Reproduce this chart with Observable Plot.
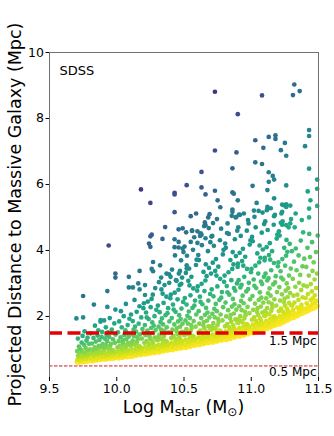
<!DOCTYPE html>
<html><head><meta charset="utf-8">
<script src="https://cdn.jsdelivr.net/npm/d3@7"></script>
<script src="https://cdn.jsdelivr.net/npm/@observablehq/plot@0.6"></script>
<style>html,body{margin:0;padding:0;background:#fff}</style>
</head><body><div id="chart"></div>
<script>
const xTicks = [9.5, 10.0, 10.5, 11.0, 11.5];
const yTicks = [2, 4, 6, 8, 10];
const refLines = [1.5, 0.5];
const refLabels = ["1.5 Mpc", "0.5 Mpc"];
const panelLabel = ["SDSS"];
// lower envelope of the cloud (colour reference)
const envMass = [9.70,9.80,9.90,10.0,10.1,10.2,10.3,10.4,10.5,10.6,10.7,10.8,10.9,11.0,11.1,11.2,11.3,11.4,11.5];
const envDist = [0.58,0.63,0.68,0.72,0.77,0.84,0.90,0.97,1.04,1.12,1.20,1.28,1.38,1.48,1.60,1.74,1.92,2.10,2.30];

const bandLow = [
[9.703,.62],[9.716,.59],[9.731,.64],[9.744,.61],[9.758,.63],[9.772,.62],[9.789,.65],[9.796,.70],[9.708,.69],[9.722,.73],[9.737,.67],[9.751,.75],[9.766,.71],[9.781,.78],[9.712,.81],[9.727,.86],[9.741,.79],[9.763,.84],[9.778,.91],[9.792,.85],[9.705,.95],[9.734,.99],[9.749,.92],[9.769,1.04],[9.786,.98],[9.719,1.09],[9.757,1.14],[9.739,1.21],[9.775,1.27],[9.711,1.33],[9.793,1.17],[9.746,1.41],[9.761,1.55],[9.726,1.02],[9.783,1.36],
[9.804,.65],[9.818,.64],[9.833,.67],[9.846,.66],[9.861,.69],[9.877,.68],[9.893,.71],[9.809,.74],[9.824,.71],[9.839,.78],[9.853,.73],[9.868,.80],[9.884,.76],[9.897,.83],[9.812,.87],[9.829,.82],[9.843,.91],[9.858,.88],[9.874,.94],[9.889,.90],[9.802,1.00],[9.821,.97],[9.836,1.06],[9.851,1.02],[9.866,1.11],[9.881,1.07],[9.895,1.16],[9.815,1.18],[9.844,1.24],[9.871,1.29],[9.827,1.35],[9.858,1.42],[9.887,1.38],[9.806,1.49],[9.863,1.58],[9.838,1.72],[9.879,1.84],[9.891,1.53],
[9.903,.70],[9.917,.69],[9.931,.72],[9.946,.71],[9.962,.73],[9.977,.72],[9.992,.75],[9.908,.77],[9.923,.80],[9.938,.76],[9.954,.83],[9.969,.79],[9.985,.86],[9.912,.90],[9.927,.85],[9.942,.94],[9.958,.90],[9.973,.97],[9.988,.93],[9.905,1.01],[9.921,1.06],
[9.964,.99],[9.949,1.10],[9.934,1.04],[9.918,1.14],[9.903,1.08],[9.986,1.20],[9.957,1.17],[9.929,1.25],[9.972,1.31],[9.944,1.38],[9.911,1.33],[9.991,1.45],[9.936,1.52],[9.963,1.60],[9.919,1.67],[9.982,1.79],[9.948,1.95],[9.906,1.88],[9.925,1.44],
[10.003,.74],[10.017,.73],[10.032,.76],[10.046,.75],[10.061,.78],[10.077,.77],[10.092,.79],[10.008,.81],[10.023,.84],[10.038,.80],[10.054,.87],[10.069,.83],[10.085,.90],[10.012,.94],[10.027,.89],[10.042,.98],[10.058,.95],[10.073,1.01],[10.088,.97],[10.005,1.06],[10.021,1.11],[10.036,1.04],[10.051,1.15],[10.066,1.09],[10.082,1.19],[10.097,1.13],[10.014,1.25],[10.043,1.22],[10.071,1.31],[10.028,1.37],[10.056,1.44],[10.089,1.39],[10.009,1.52],[10.064,1.58],[10.037,1.67],[10.081,1.74],[10.018,1.85],[10.052,2.01],[10.094,1.93],[10.075,1.50],[10.047,1.29],[10.031,2.16],[10.068,2.38],
[10.103,.79],[10.117,.78],[10.132,.82],[10.146,.81],[10.161,.84],[10.177,.83],[10.192,.86],[10.108,.87],[10.123,.90],[10.138,.86],[10.154,.93],[10.169,.89],[10.185,.96],[10.112,1.00],[10.127,.95],[10.142,1.04],[10.158,1.00],[10.173,1.08],[10.188,1.03],[10.105,1.12],[10.121,1.17],
[10.164,1.10],[10.149,1.22],[10.134,1.15],[10.118,1.27],[10.103,1.20],[10.186,1.33],[10.157,1.30],[10.129,1.40],[10.172,1.46],[10.144,1.54],[10.111,1.48],[10.191,1.62],[10.136,1.69],[10.163,1.78],[10.119,1.86],[10.182,1.97],[10.148,2.14],[10.106,2.06],[10.125,1.60],[10.153,1.38],[10.169,2.31],[10.132,2.50],[10.198,2.25]
];

const bandMid = [
[10.203,.86],[10.217,.85],[10.232,.88],[10.246,.87],[10.261,.90],[10.277,.89],[10.292,.92],[10.208,.93],[10.223,.96],[10.238,.92],[10.254,1.00],[10.269,.95],[10.285,1.03],[10.212,1.07],[10.227,1.02],[10.242,1.11],[10.258,1.07],[10.273,1.15],[10.288,1.10],[10.205,1.20],[10.221,1.25],[10.236,1.18],[10.251,1.31],[10.266,1.23],[10.282,1.36],[10.297,1.29],[10.214,1.43],[10.243,1.39],[10.271,1.50],[10.228,1.57],[10.256,1.65],[10.289,1.59],[10.209,1.74],[10.264,1.82],[10.237,1.92],[10.281,2.01],[10.218,2.12],[10.252,2.28],[10.294,2.20],[10.275,1.72],[10.247,1.48],[10.231,2.45],[10.268,2.66],[10.202,2.40],[10.286,2.86],[10.259,2.53],[10.223,1.97],
[10.303,.92],[10.317,.91],[10.332,.95],[10.346,.94],[10.361,.97],[10.377,.96],[10.392,.99],[10.308,1.00],[10.323,1.03],[10.338,.99],[10.354,1.07],[10.369,1.02],[10.385,1.10],[10.312,1.14],[10.327,1.09],[10.342,1.19],[10.358,1.14],[10.373,1.23],[10.388,1.17],[10.305,1.28],[10.321,1.33],
[10.364,1.26],[10.349,1.39],[10.334,1.31],[10.318,1.45],[10.303,1.37],[10.386,1.52],[10.357,1.48],[10.329,1.60],[10.372,1.67],[10.344,1.76],[10.311,1.69],[10.391,1.85],[10.336,1.94],[10.363,2.04],[10.319,2.13],[10.382,2.25],[10.348,2.41],[10.306,2.33],[10.325,1.83],[10.353,1.57],[10.369,2.60],[10.332,2.82],[10.398,2.55],[10.314,3.04],[10.341,2.69],[10.377,2.10],[10.389,3.28],[10.322,3.55],[10.355,2.95],
[10.403,.99],[10.417,.98],[10.432,1.02],[10.446,1.01],[10.461,1.04],[10.477,1.03],[10.492,1.06],[10.408,1.07],[10.423,1.10],[10.438,1.06],[10.454,1.14],[10.469,1.09],[10.485,1.17],[10.412,1.21],[10.427,1.16],[10.442,1.26],[10.458,1.21],[10.473,1.30],[10.488,1.24],[10.405,1.35],[10.421,1.41],[10.436,1.33],[10.451,1.47],[10.466,1.38],[10.482,1.53],[10.497,1.45],[10.414,1.60],[10.443,1.56],[10.471,1.69],[10.428,1.76],[10.456,1.85],[10.489,1.78],[10.409,1.95],[10.464,2.04],[10.437,2.14],[10.481,2.24],[10.418,2.36],[10.452,2.52],[10.494,2.44],[10.475,1.92],[10.447,1.65],[10.431,2.72],[10.468,2.95],[10.402,2.66],[10.486,3.18],[10.459,2.81],[10.423,2.21],[10.411,3.42],[10.478,3.70],[10.445,3.08],[10.496,3.95],[10.433,3.85],[10.462,3.30],
[10.503,1.06],[10.517,1.05],[10.532,1.09],[10.546,1.08],[10.561,1.12],[10.577,1.11],[10.592,1.14],[10.508,1.14],[10.523,1.17],[10.538,1.13],[10.554,1.22],[10.569,1.17],[10.585,1.25],[10.512,1.29],[10.527,1.23],[10.542,1.34],[10.558,1.29],[10.573,1.38],[10.588,1.32],[10.505,1.43],[10.521,1.49],
[10.564,1.41],[10.549,1.56],[10.534,1.46],[10.518,1.62],[10.503,1.53],[10.586,1.69],[10.557,1.65],[10.529,1.78],[10.572,1.86],[10.544,1.95],[10.511,1.88],[10.591,2.06],[10.536,2.15],[10.563,2.26],[10.519,2.36],[10.582,2.48],[10.548,2.64],[10.506,2.56],[10.525,2.02],[10.553,1.74],[10.569,2.85],[10.532,3.08],[10.598,2.78],[10.514,3.32],[10.541,2.94],[10.577,2.33],[10.589,3.56],[10.522,3.84],[10.555,3.20],[10.504,4.12],[10.567,4.02],[10.538,3.45],[10.576,4.40],[10.516,4.55],[10.594,3.72],
[10.603,1.14],[10.617,1.13],[10.632,1.17],[10.646,1.16],[10.661,1.20],[10.677,1.19],[10.692,1.22],[10.608,1.22],[10.623,1.25],[10.638,1.21],[10.654,1.30],[10.669,1.25],[10.685,1.33],[10.612,1.37],[10.627,1.31],[10.642,1.42],[10.658,1.37],[10.673,1.46],[10.688,1.40],[10.605,1.51],[10.621,1.57],[10.636,1.49],[10.651,1.64],[10.666,1.54],[10.682,1.70],[10.697,1.61],[10.614,1.78],[10.643,1.73],[10.671,1.87],[10.628,1.95],[10.656,2.05],[10.689,1.97],[10.609,2.16],[10.664,2.26],[10.637,2.37],[10.681,2.48],[10.618,2.60],[10.652,2.77],[10.694,2.68],[10.675,2.12],[10.647,1.83],[10.631,2.99],[10.668,3.22],[10.602,2.91],[10.686,3.47],[10.659,3.09],[10.623,2.44],[10.611,3.71],[10.678,3.98],[10.645,3.35],[10.696,4.25],[10.633,4.16],[10.662,3.58],[10.624,4.52],[10.684,4.68],[10.606,3.86],[10.655,4.85]
];

const bandHigh = [
[10.703,1.22],[10.717,1.21],[10.732,1.25],[10.746,1.24],[10.761,1.28],[10.777,1.27],[10.792,1.30],[10.708,1.30],[10.723,1.33],[10.738,1.29],[10.754,1.38],[10.769,1.33],[10.785,1.41],[10.712,1.45],[10.727,1.39],[10.742,1.50],[10.758,1.45],[10.773,1.55],[10.788,1.48],[10.705,1.60],[10.721,1.66],
[10.764,1.57],[10.749,1.73],[10.734,1.63],[10.718,1.80],[10.703,1.70],[10.786,1.88],[10.757,1.83],[10.729,1.97],[10.772,2.06],[10.744,2.16],[10.711,2.08],[10.791,2.28],[10.736,2.38],[10.763,2.50],[10.719,2.61],[10.782,2.74],[10.748,2.91],[10.706,2.82],[10.725,2.23],[10.753,1.93],[10.769,3.14],[10.732,3.38],[10.798,3.05],[10.714,3.63],[10.741,3.24],[10.777,2.57],[10.789,3.88],[10.722,4.14],[10.755,3.51],[10.704,4.42],[10.767,4.31],[10.738,3.74],[10.776,4.66],[10.716,4.83],[10.794,4.02],[10.745,4.95],[10.701,3.30],
[10.803,1.30],[10.817,1.29],[10.832,1.33],[10.846,1.32],[10.861,1.37],[10.877,1.36],[10.892,1.40],[10.808,1.39],[10.823,1.42],[10.838,1.38],[10.854,1.47],[10.869,1.42],[10.885,1.51],[10.812,1.55],[10.827,1.48],[10.842,1.60],[10.858,1.55],[10.873,1.65],[10.888,1.58],[10.805,1.70],[10.821,1.77],[10.836,1.67],[10.851,1.84],[10.866,1.73],[10.882,1.91],[10.897,1.81],[10.814,2.00],[10.843,1.94],[10.871,2.09],[10.828,2.19],[10.856,2.30],[10.889,2.21],[10.809,2.42],[10.864,2.53],[10.837,2.66],[10.881,2.78],[10.818,2.92],[10.852,3.10],[10.894,3.00],[10.875,2.37],[10.847,2.05],[10.831,3.34],[10.868,3.58],[10.802,3.24],[10.886,3.83],[10.859,3.44],[10.823,2.73],[10.811,4.08],[10.878,4.34],[10.845,3.71],[10.896,4.60],[10.833,4.50],[10.862,3.95],[10.824,4.82],[10.884,5.00],[10.806,4.21],[10.855,5.05],[10.899,3.50],[10.872,2.86],
[10.903,1.40],[10.917,1.39],[10.932,1.43],[10.946,1.42],[10.961,1.47],[10.977,1.46],[10.992,1.50],[10.908,1.49],[10.923,1.52],[10.938,1.48],[10.954,1.57],[10.969,1.52],[10.985,1.61],[10.912,1.65],[10.927,1.58],[10.942,1.70],[10.958,1.65],[10.973,1.75],[10.988,1.68],[10.905,1.80],[10.921,1.87],
[10.964,1.77],[10.949,1.94],[10.934,1.83],[10.918,2.01],[10.903,1.91],[10.986,2.10],[10.957,2.04],[10.929,2.19],[10.972,2.29],[10.944,2.40],[10.911,2.31],[10.991,2.52],[10.936,2.63],[10.963,2.76],[10.919,2.88],[10.982,3.02],[10.948,3.20],[10.906,3.10],[10.925,2.47],[10.953,2.15],[10.969,3.44],[10.932,3.68],[10.998,3.34],[10.914,3.93],[10.941,3.54],[10.977,2.83],[10.989,4.18],[10.922,4.44],[10.955,3.81],[10.904,4.70],[10.967,4.60],[10.938,4.05],[10.976,4.92],[10.916,5.08],[10.994,4.31],[10.945,5.12],[10.901,3.60],[10.928,2.96],
[11.003,1.50],[11.017,1.49],[11.032,1.54],[11.046,1.53],[11.061,1.58],[11.077,1.57],[11.092,1.61],[11.008,1.59],[11.023,1.62],[11.038,1.58],[11.054,1.67],[11.069,1.63],[11.085,1.72],[11.012,1.75],[11.027,1.68],[11.042,1.80],[11.058,1.76],[11.073,1.86],[11.088,1.79],[11.005,1.90],[11.021,1.97],[11.036,1.87],[11.051,2.04],[11.066,1.94],[11.082,2.12],[11.097,2.02],[11.014,2.20],[11.043,2.14],[11.071,2.30],[11.028,2.39],[11.056,2.50],[11.089,2.42],[11.009,2.62],[11.064,2.73],[11.037,2.86],[11.081,2.98],[11.018,3.12],[11.052,3.30],[11.094,3.20],[11.075,2.57],[11.047,2.25],[11.031,3.54],[11.068,3.78],[11.002,3.44],[11.086,4.03],[11.059,3.64],[11.023,2.93],[11.011,4.28],[11.078,4.54],[11.045,3.91],[11.096,4.80],[11.033,4.70],[11.062,4.15],[11.024,5.02],[11.084,5.15],[11.006,4.41],[11.055,5.20],[11.099,3.70],[11.072,3.06],
[11.103,1.62],[11.117,1.62],[11.132,1.66],[11.146,1.67],[11.161,1.71],[11.177,1.72],[11.192,1.76],[11.108,1.71],[11.123,1.75],[11.138,1.72],[11.154,1.81],[11.169,1.78],[11.185,1.86],[11.112,1.87],[11.127,1.81],[11.142,1.93],[11.158,1.90],[11.173,2.00],[11.188,1.94],[11.105,2.02],[11.121,2.09],
[11.164,1.99],[11.149,2.17],[11.134,2.07],[11.118,2.25],[11.103,2.16],[11.186,2.33],[11.157,2.27],[11.129,2.43],[11.172,2.52],[11.144,2.63],[11.111,2.55],[11.191,2.74],[11.136,2.85],[11.163,2.97],[11.119,3.09],[11.182,3.22],[11.148,3.40],[11.106,3.30],[11.125,2.70],[11.153,2.38],[11.169,3.62],[11.132,3.86],[11.198,3.52],[11.114,4.10],[11.141,3.72],[11.177,3.03],[11.189,4.36],[11.122,4.62],[11.155,3.98],[11.104,4.88],[11.167,4.78],[11.138,4.22],[11.176,5.08],[11.116,5.22],[11.194,4.48],[11.145,5.28],[11.101,3.78],[11.128,3.16],
[11.203,1.76],[11.217,1.77],[11.232,1.81],[11.246,1.83],[11.261,1.87],[11.277,1.89],[11.292,1.94],[11.208,1.85],[11.223,1.90],[11.238,1.88],[11.254,1.97],[11.269,1.95],[11.285,2.04],[11.212,2.01],[11.227,1.97],[11.242,2.08],[11.258,2.07],[11.273,2.16],[11.288,2.12],[11.205,2.16],[11.221,2.24],[11.236,2.15],[11.251,2.33],[11.266,2.24],[11.282,2.41],[11.297,2.34],[11.214,2.48],[11.243,2.43],[11.271,2.59],[11.228,2.67],[11.256,2.78],[11.289,2.71],[11.209,2.89],[11.264,3.00],[11.237,3.12],[11.281,3.24],[11.218,3.37],[11.252,3.54],[11.294,3.45],[11.275,2.86],[11.247,2.54],[11.231,3.74],[11.268,3.96],[11.202,3.64],[11.286,4.20],[11.259,3.84],[11.223,3.18],[11.211,4.45],[11.278,4.70],[11.245,4.08],[11.296,4.95],[11.233,4.88],[11.262,4.32],[11.224,5.12],[11.206,4.58],
[11.303,1.95],[11.318,1.96],[11.333,2.00],[11.347,2.02],[11.362,2.06],[11.378,2.08],[11.393,2.12],[11.308,2.04],[11.324,2.09],[11.339,2.08],[11.355,2.16],[11.371,2.17],[11.386,2.24],[11.312,2.20],[11.342,2.27],[11.358,2.26],[11.373,2.35],[11.305,2.33],[11.321,2.42],[11.351,2.50],[11.382,2.58],[11.314,2.63],[11.343,2.66],[11.371,2.80],[11.328,2.90],[11.356,3.02],[11.389,2.94],[11.309,3.14],[11.364,3.26],[11.337,3.40],[11.381,3.52],[11.318,3.66],[11.352,3.85],[11.394,3.75],[11.331,4.06],[11.368,4.30],[11.302,3.98],[11.386,4.55],[11.323,4.70],[11.376,4.92],
[11.403,2.13],[11.418,2.15],[11.433,2.19],[11.447,2.22],[11.462,2.24],[11.478,2.27],[11.493,2.32],[11.408,2.24],[11.424,2.30],[11.439,2.31],[11.455,2.38],[11.471,2.41],[11.486,2.47],[11.412,2.40],[11.442,2.50],[11.458,2.55],[11.473,2.64],[11.405,2.56],[11.421,2.68],[11.451,2.76],[11.482,2.86],[11.414,2.91],[11.443,2.98],[11.471,3.12],[11.428,3.24],[11.456,3.38],[11.489,3.30],[11.409,3.50],[11.464,3.64],[11.437,3.80],[11.481,3.95],[11.418,4.08],[11.452,4.25],[11.494,4.45],[11.431,4.50]
];

const sparse = [
[9.70,1.94],[9.75,1.97],[9.75,2.62],[9.83,2.36],[9.88,1.89],[9.93,2.77],[9.93,2.29],[9.94,4.15],[9.99,3.30],[9.99,3.18],[9.99,2.21],[10.09,3.20],[10.09,2.88],[10.12,2.88],[10.16,3.00],[10.17,2.82],[10.17,3.38],[10.21,2.95],[10.21,2.65],[10.18,5.85],[10.25,5.44],[10.24,4.21],[10.25,4.11],[10.25,4.43],[10.26,4.48],[10.26,3.44],[10.27,3.37],[10.27,3.65],[10.33,3.18],[10.34,4.35],[10.36,4.71],[10.37,3.30],[10.39,3.02],[10.40,3.20],[10.43,5.75],[10.43,5.70],[10.43,5.16],[10.43,4.34],[10.43,4.10],[10.44,3.10],[10.46,4.09],[10.46,4.64],[10.46,4.26],[10.47,3.38],[10.48,2.99],[10.49,4.06],[10.49,4.67],[10.52,5.98],[10.52,3.55],[10.52,3.45],[10.55,5.04],[10.55,4.26],[10.56,4.61],[10.56,4.59],[10.59,5.12],[10.60,4.58],[10.60,4.23],[10.62,4.44],[10.63,6.38],[10.63,5.91],[10.63,4.48],[10.65,4.74],[10.66,5.70],[10.66,4.77],[10.66,4.37],[10.69,5.10],[10.68,5.00],[10.71,4.44],[10.73,8.81],[10.73,7.03],[10.73,5.81],[10.75,5.52],[10.77,5.31],[10.82,4.53],[10.86,5.76],[10.87,5.72],[10.86,6.49],[10.89,6.97],[10.90,8.13],[10.90,5.52],[10.86,5.24],[10.86,5.17],[10.91,5.09],[10.89,5.02],[10.98,4.82],[11.01,5.96],[11.02,5.21],[11.03,7.34],[11.03,6.67],[11.04,5.44],[11.08,8.70],[11.08,6.62],[11.09,7.11],[11.12,5.32],[11.13,7.44],[11.12,5.83],[11.13,6.37],[11.13,6.08],[11.16,6.26],[11.17,6.15],[11.17,5.58],[11.17,5.04],[11.18,7.49],[11.18,7.38],[11.22,7.04],[11.23,5.39],[11.24,5.37],[11.23,5.17],[11.22,4.84],[11.23,4.78],[11.25,7.26],[11.26,6.87],[11.26,5.97],[11.26,5.40],[11.26,5.32],[11.26,4.77],[11.29,5.36],[11.29,4.82],[11.33,5.12],[11.31,8.71],[11.32,9.03],[11.36,8.83],[11.40,7.16],[11.43,7.65],[11.43,7.47],[11.43,6.48],[11.42,5.79],[11.44,5.52],[11.43,5.27],[11.43,5.00],[11.49,6.15],[11.49,5.35],[11.49,5.87]
];

const envAt = d3.scaleLinear().domain(envMass).range(envDist).clamp(true);
const galaxies = [...bandLow, ...bandMid, ...bandHigh, ...sparse].map(([x, y]) => ({
  x, y, c: Math.max(0, Math.min(2.3, Math.log(y / envAt(x))))
}));

const chart = Plot.plot({
  width: 334, height: 436,
  marginLeft: 49, marginRight: 16, marginTop: 52, marginBottom: 59,
  style: {fontFamily: "DejaVu Sans", fontSize: "12.5px", color: "black", background: "white", overflow: "visible"},
  x: {domain: [9.5, 11.5], ticks: xTicks, tickFormat: d3.format(".1f"), tickSize: 4, tickPadding: 3, label: null},
  y: {domain: [0.15, 10], ticks: yTicks, tickSize: 3.5, tickPadding: 2, label: null},
  color: {type: "linear", scheme: "viridis", domain: [0, 2.3], reverse: true},
  marks: [
    Plot.dot(galaxies, {x: "x", y: "y", r: 2.35, fill: "c", stroke: null}),
    Plot.ruleY([refLines[0]], {stroke: "#e60000", strokeWidth: 3.5, strokeDasharray: "13,5.5"}),
    Plot.ruleY([refLines[1]], {stroke: "#cc1a1a", strokeWidth: 1, strokeDasharray: "3.5,1.5"}),
    Plot.text([refLabels[0]], {x: () => xTicks[4], y: () => refLines[0], text: d => d, textAnchor: "end", lineAnchor: "top", dx: -2, dy: 3.5, fontSize: 12, fill: "black"}),
    Plot.text([refLabels[1]], {x: () => xTicks[4], y: () => refLines[1], text: d => d, textAnchor: "end", lineAnchor: "top", dx: -2, dy: 1.5, fontSize: 12, fill: "black"}),
    Plot.text(panelLabel, {frameAnchor: "top-left", text: d => d, textAnchor: "start", lineAnchor: "top", dx: 10, dy: 13, fontSize: 13, fill: "black"}),
    Plot.ruleX([xTicks[0], xTicks[4]], {stroke: "#707070", strokeWidth: 1}),
    Plot.ruleY([yTicks[4]], {stroke: "#707070", strokeWidth: 1})
  ]
});

const svg = d3.select(chart);
svg.append("text")
  .attr("transform", "translate(21,214.5) rotate(-90)")
  .attr("text-anchor", "middle")
  .attr("font-size", 17.5)
  .attr("fill", "black")
  .text("Projected Distance to Massive Galaxy (Mpc)");
const xl = svg.append("text")
  .attr("x", 183.5).attr("y", 413)
  .attr("text-anchor", "middle")
  .attr("font-size", 17.5)
  .attr("fill", "black");
xl.append("tspan").text("Log M");
xl.append("tspan").attr("font-size", 13).attr("dy", 2.5).text("star");
xl.append("tspan").attr("dy", -2.5).text(" (M");
xl.append("tspan").attr("font-size", 12).attr("dy", 3).text("\u2299");
xl.append("tspan").attr("dy", -3).text(")");

document.getElementById("chart").appendChild(chart);
</script>
</body></html>
